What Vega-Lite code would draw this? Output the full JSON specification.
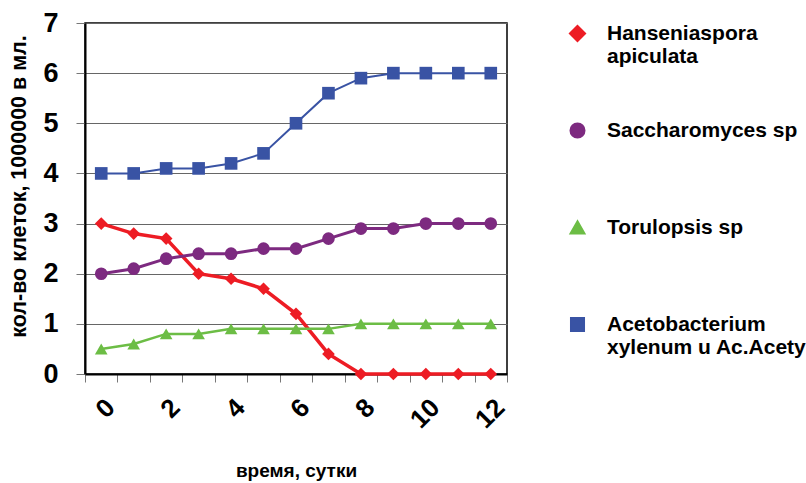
{
  "$schema": "https://vega.github.io/schema/vega-lite/v6.json",
  "autosize": {"type": "none"},
  "padding": {"left": 85, "top": 23, "right": 299, "bottom": 109},
  "width": 422,
  "height": 351,
  "background": "white",
  "config": {
    "font": "Liberation Sans",
    "view": {"stroke": "#000000", "strokeWidth": 1.5},
    "axis": {"labelFont": "Liberation Sans", "titleFont": "Liberation Sans", "labelFontWeight": "bold", "titleFontWeight": "bold", "labelColor": "#000000", "titleColor": "#000000"},
    "legend": {"labelFont": "Liberation Sans", "labelFontWeight": "bold", "labelFontSize": 21, "labelColor": "#000000", "labelOffset": 19, "labelLimit": 400, "symbolSize": 170, "symbolStrokeWidth": 0, "rowPadding": 50, "padding": 0, "symbolOpacity": 1, "gridAlign": "all"}
  },
  "data": {"values": [
    {"series": "Hanseniaspora apiculata", "day": 0, "value": 3.0},
    {"series": "Hanseniaspora apiculata", "day": 1, "value": 2.8},
    {"series": "Hanseniaspora apiculata", "day": 2, "value": 2.7},
    {"series": "Hanseniaspora apiculata", "day": 3, "value": 2.0},
    {"series": "Hanseniaspora apiculata", "day": 4, "value": 1.9},
    {"series": "Hanseniaspora apiculata", "day": 5, "value": 1.7},
    {"series": "Hanseniaspora apiculata", "day": 6, "value": 1.2},
    {"series": "Hanseniaspora apiculata", "day": 7, "value": 0.4},
    {"series": "Hanseniaspora apiculata", "day": 8, "value": 0.0},
    {"series": "Hanseniaspora apiculata", "day": 9, "value": 0.0},
    {"series": "Hanseniaspora apiculata", "day": 10, "value": 0.0},
    {"series": "Hanseniaspora apiculata", "day": 11, "value": 0.0},
    {"series": "Hanseniaspora apiculata", "day": 12, "value": 0.0},
    {"series": "Saccharomyces sp", "day": 0, "value": 2.0},
    {"series": "Saccharomyces sp", "day": 1, "value": 2.1},
    {"series": "Saccharomyces sp", "day": 2, "value": 2.3},
    {"series": "Saccharomyces sp", "day": 3, "value": 2.4},
    {"series": "Saccharomyces sp", "day": 4, "value": 2.4},
    {"series": "Saccharomyces sp", "day": 5, "value": 2.5},
    {"series": "Saccharomyces sp", "day": 6, "value": 2.5},
    {"series": "Saccharomyces sp", "day": 7, "value": 2.7},
    {"series": "Saccharomyces sp", "day": 8, "value": 2.9},
    {"series": "Saccharomyces sp", "day": 9, "value": 2.9},
    {"series": "Saccharomyces sp", "day": 10, "value": 3.0},
    {"series": "Saccharomyces sp", "day": 11, "value": 3.0},
    {"series": "Saccharomyces sp", "day": 12, "value": 3.0},
    {"series": "Torulopsis sp", "day": 0, "value": 0.5},
    {"series": "Torulopsis sp", "day": 1, "value": 0.6},
    {"series": "Torulopsis sp", "day": 2, "value": 0.8},
    {"series": "Torulopsis sp", "day": 3, "value": 0.8},
    {"series": "Torulopsis sp", "day": 4, "value": 0.9},
    {"series": "Torulopsis sp", "day": 5, "value": 0.9},
    {"series": "Torulopsis sp", "day": 6, "value": 0.9},
    {"series": "Torulopsis sp", "day": 7, "value": 0.9},
    {"series": "Torulopsis sp", "day": 8, "value": 1.0},
    {"series": "Torulopsis sp", "day": 9, "value": 1.0},
    {"series": "Torulopsis sp", "day": 10, "value": 1.0},
    {"series": "Torulopsis sp", "day": 11, "value": 1.0},
    {"series": "Torulopsis sp", "day": 12, "value": 1.0},
    {"series": "Acetobacterium xylenum u Ac.Acety", "day": 0, "value": 4.0},
    {"series": "Acetobacterium xylenum u Ac.Acety", "day": 1, "value": 4.0},
    {"series": "Acetobacterium xylenum u Ac.Acety", "day": 2, "value": 4.1},
    {"series": "Acetobacterium xylenum u Ac.Acety", "day": 3, "value": 4.1},
    {"series": "Acetobacterium xylenum u Ac.Acety", "day": 4, "value": 4.2},
    {"series": "Acetobacterium xylenum u Ac.Acety", "day": 5, "value": 4.4},
    {"series": "Acetobacterium xylenum u Ac.Acety", "day": 6, "value": 5.0},
    {"series": "Acetobacterium xylenum u Ac.Acety", "day": 7, "value": 5.6},
    {"series": "Acetobacterium xylenum u Ac.Acety", "day": 8, "value": 5.9},
    {"series": "Acetobacterium xylenum u Ac.Acety", "day": 9, "value": 6.0},
    {"series": "Acetobacterium xylenum u Ac.Acety", "day": 10, "value": 6.0},
    {"series": "Acetobacterium xylenum u Ac.Acety", "day": 11, "value": 6.0},
    {"series": "Acetobacterium xylenum u Ac.Acety", "day": 12, "value": 6.0}
  ]},
  "layer": [
    {
      "mark": {"type": "line"},
      "encoding": {
        "x": {
          "field": "day", "type": "ordinal", "bandPosition": 0.5,
          "scale": {"type": "band", "paddingInner": 0, "paddingOuter": 0},
          "axis": {
            "title": "время, сутки", "titleFontSize": 19, "titlePadding": 29,
            "labelExpr": "datum.value % 2 == 0 ? datum.label : ''",
            "labelAngle": -45, "labelFontSize": 26, "labelPadding": 12, "labelDx": -7.8, "labelDy": -4.9,
            "tickBand": "extent", "tickSize": 8, "tickColor": "#777777", "tickWidth": 1,
            "domainColor": "#000000", "domainWidth": 2, "grid": false
          }
        },
        "y": {
          "field": "value", "type": "quantitative",
          "scale": {"domain": [0, 7], "nice": false},
          "axis": {
            "title": "кол-во клеток, 1000000 в мл.", "titleFontSize": 21.5, "titlePadding": 12, "titleY": 163,
            "values": [0, 1, 2, 3, 4, 5, 6, 7],
            "labelFontSize": 27, "labelPadding": 18,
            "tickSize": 9, "tickColor": "#777777",
            "grid": true, "gridColor": "#666666", "gridWidth": 1,
            "domainColor": "#000000", "domainWidth": 2
          }
        },
        "color": {
          "field": "series", "type": "nominal",
          "scale": {
            "domain": ["Hanseniaspora apiculata", "Saccharomyces sp", "Torulopsis sp", "Acetobacterium xylenum u Ac.Acety"],
            "range": ["#ED1C24", "#7D2A80", "#6CBD45", "#3953A4"]
          },
          "legend": {
            "title": null, "orient": "none", "legendX": 482, "legendY": 0,
            "labelExpr": "datum.label == 'Hanseniaspora apiculata' ? ['Hanseniaspora', 'apiculata'] : datum.label == 'Acetobacterium xylenum u Ac.Acety' ? ['Acetobacterium', 'xylenum u Ac.Acety'] : datum.label"
          }
        },
        "strokeWidth": {
          "field": "series", "type": "nominal", "legend": null,
          "scale": {"domain": ["Hanseniaspora apiculata", "Saccharomyces sp", "Torulopsis sp", "Acetobacterium xylenum u Ac.Acety"], "range": [3.5, 2, 3.5, 2]}
        }
      }
    },
    {
      "mark": {"type": "point", "filled": true, "opacity": 1, "size": 160},
      "encoding": {
        "x": {"field": "day", "type": "ordinal", "bandPosition": 0.5},
        "y": {"field": "value", "type": "quantitative"},
        "color": {"field": "series", "type": "nominal"},
        "shape": {
          "field": "series", "type": "nominal",
          "scale": {
            "domain": ["Hanseniaspora apiculata", "Saccharomyces sp", "Torulopsis sp", "Acetobacterium xylenum u Ac.Acety"],
            "range": ["diamond", "circle", "triangle-up", "square"]
          },
          "legend": {
            "title": null, "orient": "none", "legendX": 482, "legendY": 0,
            "labelExpr": "datum.label == 'Hanseniaspora apiculata' ? ['Hanseniaspora', 'apiculata'] : datum.label == 'Acetobacterium xylenum u Ac.Acety' ? ['Acetobacterium', 'xylenum u Ac.Acety'] : datum.label"
          }
        }
      }
    }
  ]
}
